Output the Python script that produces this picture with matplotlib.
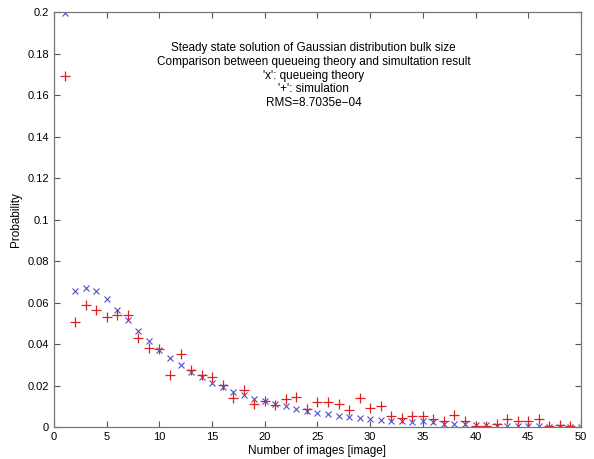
import matplotlib
matplotlib.use("Agg")
import matplotlib.pyplot as plt
import numpy as np

plt.rcParams['font.family'] = ['Liberation Sans', 'DejaVu Sans']

n_images = list(range(1, 51))
theory = [0.1995, 0.0654, 0.0670, 0.0654, 0.0619, 0.0566, 0.0517, 0.0464, 0.0416, 0.0371,
          0.0334, 0.0298, 0.0267, 0.0243, 0.0213, 0.0193, 0.0171, 0.0155, 0.0136, 0.0126,
          0.0112, 0.0099, 0.0086, 0.0078, 0.0067, 0.0061, 0.0054, 0.0048, 0.0042, 0.0038,
          0.0035, 0.0030, 0.0030, 0.0026, 0.0027, 0.0022, 0.0016, 0.0016, 0.0014, 0.0011,
          0.0008, 0.0006, 0.0006, 0.0005, 0.0003, 0.0003, 0.0002, 0.0002, 0.0002, 0.0001]
simulation = [0.169, 0.0507, 0.0589, 0.0563, 0.0531, 0.0541, 0.0541, 0.0427, 0.0381, 0.0378,
              0.0251, 0.0350, 0.0275, 0.0251, 0.0243, 0.0203, 0.0139, 0.0176, 0.0110, 0.0123,
              0.0104, 0.0136, 0.0147, 0.0086, 0.0120, 0.0120, 0.0110, 0.0083, 0.0142, 0.0094,
              0.0099, 0.0054, 0.0043, 0.0054, 0.0054, 0.0038, 0.0027, 0.0059, 0.0030, 0.0006,
              0.0006, 0.0014, 0.0038, 0.0030, 0.0030, 0.0038, 0.0003, 0.0008, 0.0006, 0.0002]

title_lines = ["Steady state solution of Gaussian distribution bulk size",
               "Comparison between queueing theory and simultation result",
               "'x': queueing theory",
               "'+': simulation",
               "RMS=8.7035e\u221204"]

fig = plt.figure(figsize=(5.94, 4.59), dpi=100)
ax = fig.add_axes([0.091, 0.0697, 0.887, 0.904])
ax.plot(n_images, theory, linestyle='none', marker='x', color='#5050c8', markersize=5, markeredgewidth=0.8)
ax.plot(n_images, simulation, linestyle='none', marker='+', color='#e02020', markersize=7, markeredgewidth=0.9)

ax.set_xlim(0, 50)
ax.set_ylim(0, 0.2)
ax.set_xticks(np.arange(0, 51, 5))
ax.set_yticks(np.arange(0, 0.201, 0.02))
ax.set_yticklabels(['0', '0.02', '0.04', '0.06', '0.08', '0.1', '0.12', '0.14', '0.16', '0.18', '0.2'])
ax.tick_params(direction='in', top=True, right=True, labelsize=8, length=4, color='#555555', width=0.8)
for s in ax.spines.values():
    s.set_color('#777777')
    s.set_linewidth(0.9)
ax.set_xlabel('Number of images [image]', fontsize=8.5, labelpad=2)
ax.set_ylabel('Probability', fontsize=8.5, labelpad=4)

ax.text(0.493, 0.928, "\n".join(title_lines), transform=ax.transAxes, ha='center', va='top',
        fontsize=8.5, linespacing=1.2)

fig.savefig('out.png', dpi=100)
